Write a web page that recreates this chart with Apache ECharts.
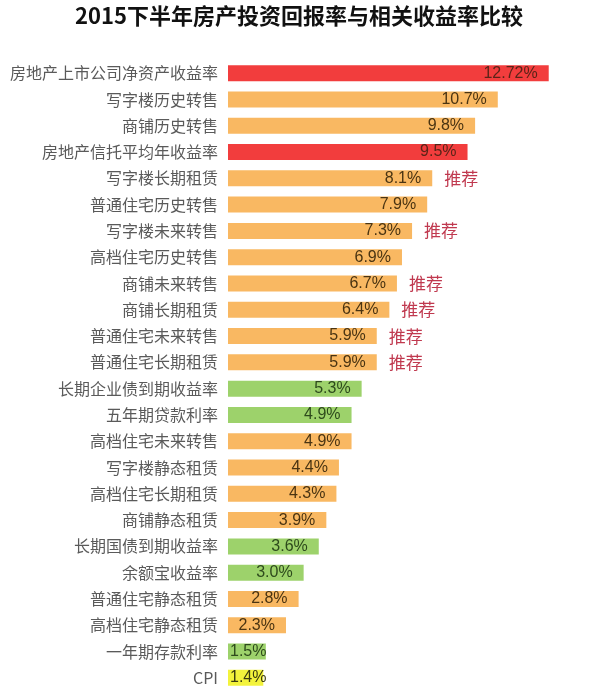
<!DOCTYPE html>
<html><head><meta charset="utf-8">
<script src="https://cdn.jsdelivr.net/npm/echarts@6/dist/echarts.min.js"></script>
<style>html,body{margin:0;padding:0;background:#fff}#c{width:600px;height:697px}</style>
</head><body><div id="c"></div>
<script>
const titleText = '2015下半年房产投资回报率与相关收益率比较';
const categories = ['房地产上市公司净资产收益率','写字楼历史转售','商铺历史转售','房地产信托平均年收益率','写字楼长期租赁','普通住宅历史转售','写字楼未来转售','高档住宅历史转售','商铺未来转售','商铺长期租赁','普通住宅未来转售','普通住宅长期租赁','长期企业债到期收益率','五年期贷款利率','高档住宅未来转售','写字楼静态租赁','高档住宅长期租赁','商铺静态租赁','长期国债到期收益率','余额宝收益率','普通住宅静态租赁','高档住宅静态租赁','一年期存款利率','CPI'];
const values = [12.72,10.7,9.8,9.5,8.1,7.9,7.3,6.9,6.7,6.4,5.9,5.9,5.3,4.9,4.9,4.4,4.3,3.9,3.6,3.0,2.8,2.3,1.5,1.4];
const valueLabels = ['12.72%','10.7%','9.8%','9.5%','8.1%','7.9%','7.3%','6.9%','6.7%','6.4%','5.9%','5.9%','5.3%','4.9%','4.9%','4.4%','4.3%','3.9%','3.6%','3.0%','2.8%','2.3%','1.5%','1.4%'];
const groups = ['company','property','property','company','property','property','property','property','property','property','property','property','rate','rate','property','property','property','property','rate','rate','property','property','rate','cpi'];
const recommended = [0,0,0,0,1,0,1,0,1,1,1,1,0,0,0,0,0,0,0,0,0,0,0,0];
const recommendText = '推荐';

const barColor = {company:'#F23D3D', property:'#F9B862', rate:'#9DD26B', cpi:'#F3F33C'};
const textColor = {company:'#5a2418', property:'#4a3412', rate:'#2d4a1c', cpi:'#3a3a10'};

const chart = echarts.init(document.getElementById('c'), null, {renderer:'canvas'});
const mainData = values.map((v,i)=>{
  const small = v < 2;
  return {
    value: v,
    itemStyle: {color: barColor[groups[i]]},
    label: {
      color: textColor[groups[i]],
      position: small ? 'insideLeft' : 'insideRight',
      distance: small ? 2 : 11
    }
  };
});
const recData = values.map((v,i)=> recommended[i] ? v : '-');
chart.setOption({
  animation:false,
  title:{text:titleText,left:294,textAlign:'center',top:0,
    textStyle:{fontFamily:'"Noto Sans CJK SC"',fontSize:22,fontWeight:'bold',color:'#111'}},
  grid:{left:228,right:19,top:60,bottom:6,containLabel:false},
  xAxis:{type:'value',min:0,max:14,show:false},
  yAxis:{type:'category',data:categories,inverse:true,
    axisLine:{show:false},axisTick:{show:false},
    axisLabel:{margin:10,fontSize:16,color:'#5a5a5a',fontFamily:'"Noto Sans CJK SC"'}},
  series:[
    {type:'bar',data:mainData,barWidth:16,
      label:{show:true,fontSize:16,fontFamily:'"Liberation Sans", Arial',
        formatter:p=>valueLabels[p.dataIndex]}},
    {type:'bar',data:recData,barWidth:16,barGap:'-100%',
      itemStyle:{color:'rgba(0,0,0,0)'},
      label:{show:true,position:'right',distance:12,fontSize:17,color:'#C0394F',
        fontFamily:'"Noto Sans CJK SC"',formatter:()=>recommendText},
      silent:true}
  ]
});
</script></body></html>
